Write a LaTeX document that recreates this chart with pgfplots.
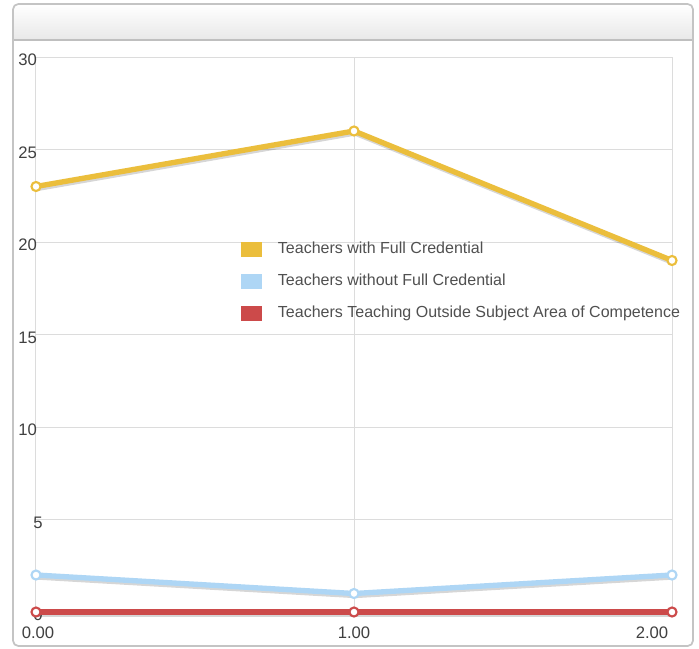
\documentclass[border=0pt]{standalone}
\usepackage{pgfplots}
\pgfplotsset{compat=1.18}
\usepackage{fontspec}
\setmainfont{Liberation Sans}
\definecolor{gold}{HTML}{EBBE3C}
\definecolor{sky}{HTML}{AED6F5}
\definecolor{brick}{HTML}{CC4A4A}
\definecolor{gridc}{HTML}{DCDCDC}
\definecolor{framec}{HTML}{C4C4C4}
\definecolor{ticktxt}{HTML}{404040}
\definecolor{legtxt}{HTML}{505050}

\begin{document}
\begin{tikzpicture}[x=0.75pt,y=-0.75pt]
\useasboundingbox (0,0) rectangle (699,649);
% panel
\fill[white] (13,4) rectangle (693,646);
\shade[top color=white, bottom color=black!9] (13,40) [rounded corners=4] -- (13,4) -- (693,4) [sharp corners] -- (693,40) -- cycle;
\draw[black!25, line width=0.9pt] (13,40) -- (693,40);
\draw[framec, line width=1.3pt, rounded corners=4] (13,4) rectangle (693,646);

\begin{axis}[
  scale only axis, width=477pt, height=416.25pt,
  at={(27pt,-459pt)}, anchor=south west,
  xmin=0, xmax=2, ymin=0, ymax=30,
  xtick={0,1,2}, ytick={0,5,...,30},
  grid=major, major grid style={gridc, line width=0.75pt},
  axis line style={gridc, line width=0.75pt},
  major tick length=0pt, tick style={draw=none},
  clip=false,
  /pgf/number format/assume math mode=true,
  tick label style={font=\fontsize{12.5}{14}\selectfont, text=ticktxt, inner sep=0pt},
  yticklabel style={anchor=west, xshift=-13.5pt, yshift=-2.25pt},
  yticklabel={\ifnum\ticknum<2 \hspace*{11.25pt}\fi\pgfmathprintnumber{\tick}},
  xticklabel style={anchor=north, yshift=-11.25pt},
  xticklabel={\ifcase\ticknum\hspace*{3pt}\pgfmathprintnumber[fixed,zerofill,precision=2]{\tick}\or\pgfmathprintnumber[fixed,zerofill,precision=2]{\tick}\or\pgfmathprintnumber[fixed,zerofill,precision=2]{\tick}\hspace*{30pt}\fi},
  legend cell align=left,
  legend image code/.code={\fill[#1, draw=none] (0pt,-5.625pt) rectangle (15.75pt,5.625pt);},
  legend style={draw=none, fill=none, inner sep=0pt, outer sep=0pt,
    at={(0.3223,0.667)}, anchor=north west,
    font=\fontsize{12}{14}\selectfont, text=legtxt,
    nodes={inner sep=0pt, text height=9pt, text depth=3pt},
    row sep=12pt, column sep=12pt},
]
% soft shadows under the lines
\addplot[forget plot, black, opacity=0.16, line width=4pt, xshift=0.75pt, yshift=-1.5pt] coordinates {(0,23) (1,26) (2,19)};
\addplot[forget plot, black, opacity=0.16, line width=4pt, xshift=0.75pt, yshift=-1.5pt] coordinates {(0,2) (1,1) (2,2)};
\addplot[forget plot, black, opacity=0.16, line width=4pt, xshift=0.75pt, yshift=-1.5pt] coordinates {(0,0) (1,0) (2,0)};

\addplot[gold, line width=4pt, mark=*, mark size=3.4pt,
  mark options={fill=white, draw=gold, line width=1.6pt}] coordinates {(0,23) (1,26) (2,19)};
\addlegendentry{Teachers with Full Credential}
\addplot[sky, line width=4pt, mark=*, mark size=3.4pt,
  mark options={fill=white, draw=sky, line width=1.6pt}] coordinates {(0,2) (1,1) (2,2)};
\addlegendentry{Teachers without Full Credential}
\addplot[brick, line width=4pt, mark=*, mark size=3.4pt,
  mark options={fill=white, draw=brick, line width=1.6pt}] coordinates {(0,0) (1,0) (2,0)};
\addlegendentry{Teachers Teaching Outside Subject Area of Competence}
\end{axis}
\end{tikzpicture}
\end{document}
